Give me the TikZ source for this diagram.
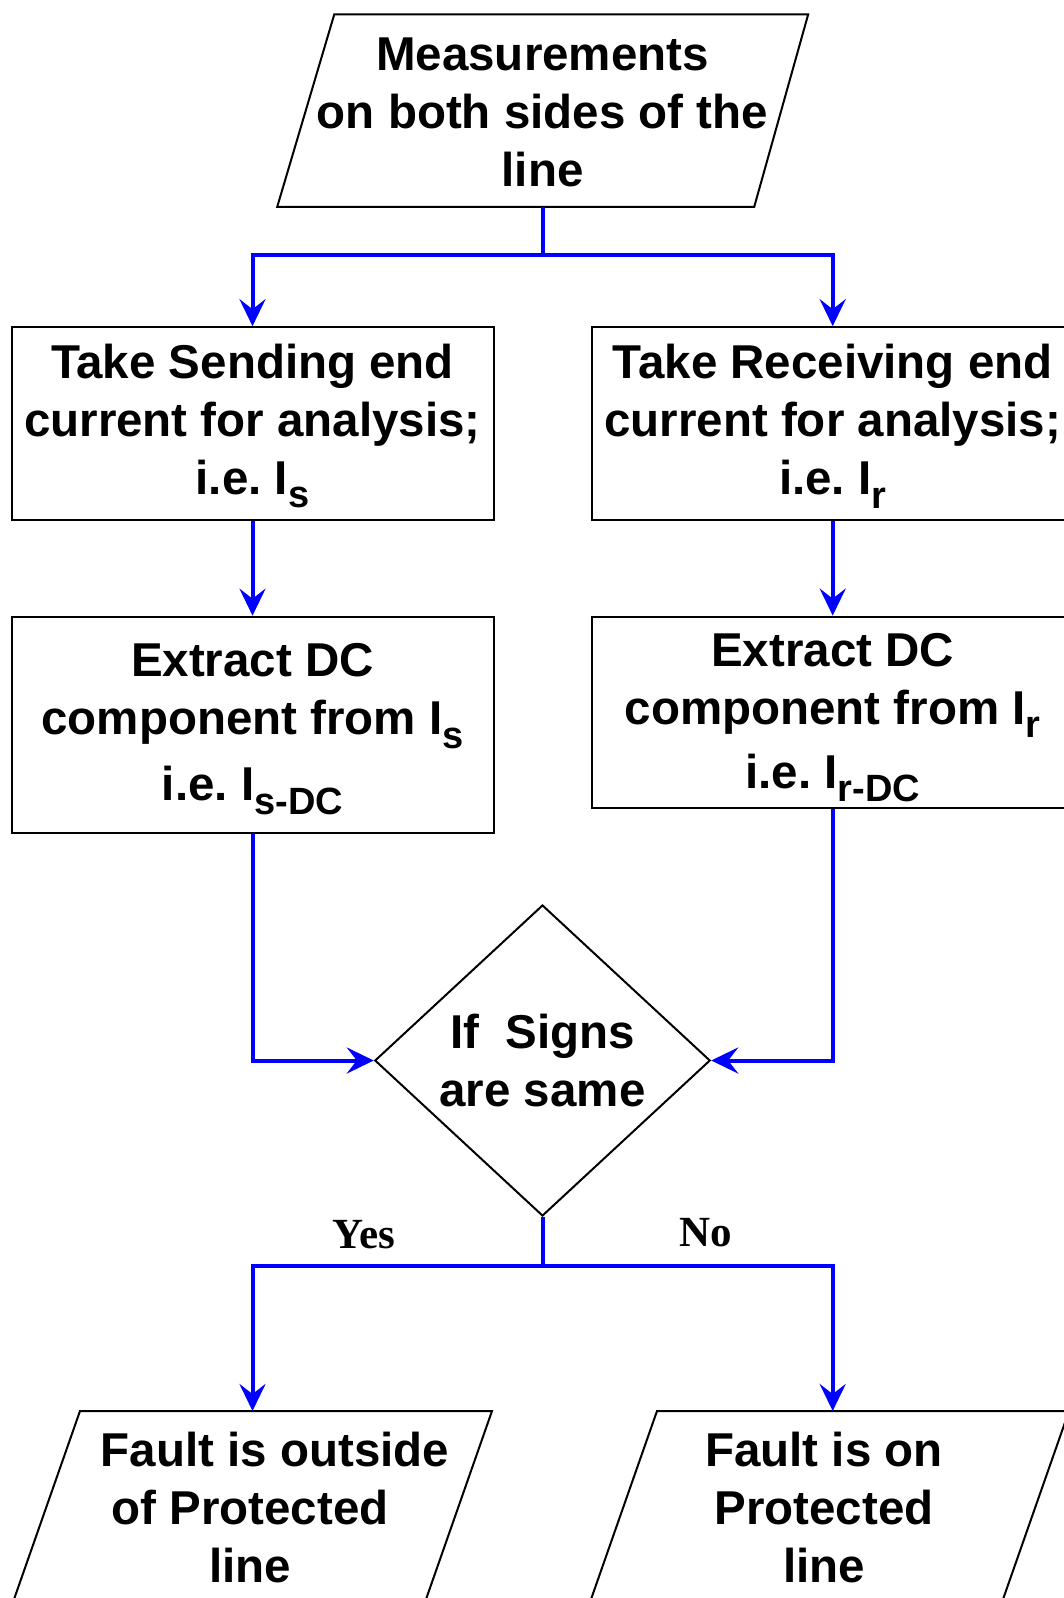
\documentclass[tikz,border=0pt]{standalone}
\usepackage{fontspec}
\setmainfont{Liberation Sans}
\newfontfamily\yesnofont{Liberation Serif}
\usetikzlibrary{arrows.meta,shapes.geometric}
\newcommand\subx[1]{\raisebox{-0.28em}{\fontsize{38}{38}\selectfont #1}}
\begin{document}
\begin{tikzpicture}[x=1pt,y=-1pt,
  txt/.style={font=\fontsize{47.5}{58}\selectfont\bfseries, align=center, inner sep=0pt},
  boxnode/.style={txt, draw=black, line width=2pt, rectangle, minimum width=482pt},
  conn/.style={draw=blue, line width=4pt},
  arr/.style={conn, -{Stealth[length=27pt,width=26pt,inset=10pt]}},
  shapeline/.style={draw=black, line width=2pt, line join=miter},
  lbl/.style={font=\yesnofont\fontsize{43}{43}\selectfont\bfseries, inner sep=0pt}]
\useasboundingbox (0,0) rectangle (1064,1598);
\fill[white] (0,0) rectangle (1064,1598);
\clip (0,0) rectangle (1064,1598);

% top parallelogram
\draw[shapeline] (334.3,14.3) -- (808.2,14.3) -- (754.2,206.9) -- (277.2,206.9) -- cycle;
\node[txt] (meas) at (542.5,112) {Measurements\\on both sides of the\\line};
\coordinate (measout) at (542.5,206.9);
\coordinate (j1) at (542.5,254.8);

% boxes
\node[boxnode, minimum height=192.6pt] (b1l) at (252.5,423.5) {\rule{0pt}{40pt}Take Sending end\\current for analysis;\\i.e.\ I\subx{s}};
\node[boxnode, minimum height=192.6pt] (b1r) at (832.7,423.5) {\rule{0pt}{40pt}Take Receiving end\\current for analysis;\\i.e.\ I\subx{r}};
\node[boxnode, minimum height=216pt] (b2l) at (252.5,724.7) {\rule{0pt}{42pt}Extract DC\\component from I\subx{s}\\[8pt]i.e.\ I\subx{s-DC}};
\node[boxnode, minimum height=191.6pt] (b2r) at (832.7,712.4) {\rule{0pt}{44pt}Extract DC\\component from I\subx{r}\\[6pt]i.e.\ I\subx{r-DC}};

% decision
\node[txt, shape=diamond, draw=black, line width=2pt, aspect=1.08, minimum width=335.4pt, minimum height=311pt] (dia) at (542.5,1060.5) {If~\ Signs\\are same};

% bottom parallelograms
\draw[shapeline] (80,1411) -- (492,1411) -- (424,1605) -- (12,1605) -- cycle;
\draw[shapeline] (657,1411) -- (1069,1411) -- (1001,1605) -- (589,1605) -- cycle;
\node[txt] (outp) at (250,1508) {\hspace*{50pt}Fault is outside\\of Protected\\line};
\node[txt] (onp) at (824,1508) {Fault is on\\Protected\\line};
\coordinate (pl) at (252.5,1411);
\coordinate (pr) at (832.7,1411);

% connectors
\draw[conn] (measout) -- (j1);
\draw[arr] (j1) -| (b1l.north);
\draw[arr] (j1) -| (b1r.north);
\draw[arr] (b1l.south) -- (b2l.north);
\draw[arr] (b1r.south) -- (b2r.north);
\draw[arr] (b2l.south) |- (dia.west);
\draw[arr] (b2r.south) |- (dia.east);
\coordinate (j2) at (542.5,1265.9);
\draw[conn] (dia.south) -- (j2);
\draw[arr] (j2) -| (pl);
\draw[arr] (j2) -| (pr);

% labels
\node[lbl] (yes) at (364,1235) {Yes};
\node[lbl] (no) at (706,1233) {No};
\end{tikzpicture}
\end{document}
